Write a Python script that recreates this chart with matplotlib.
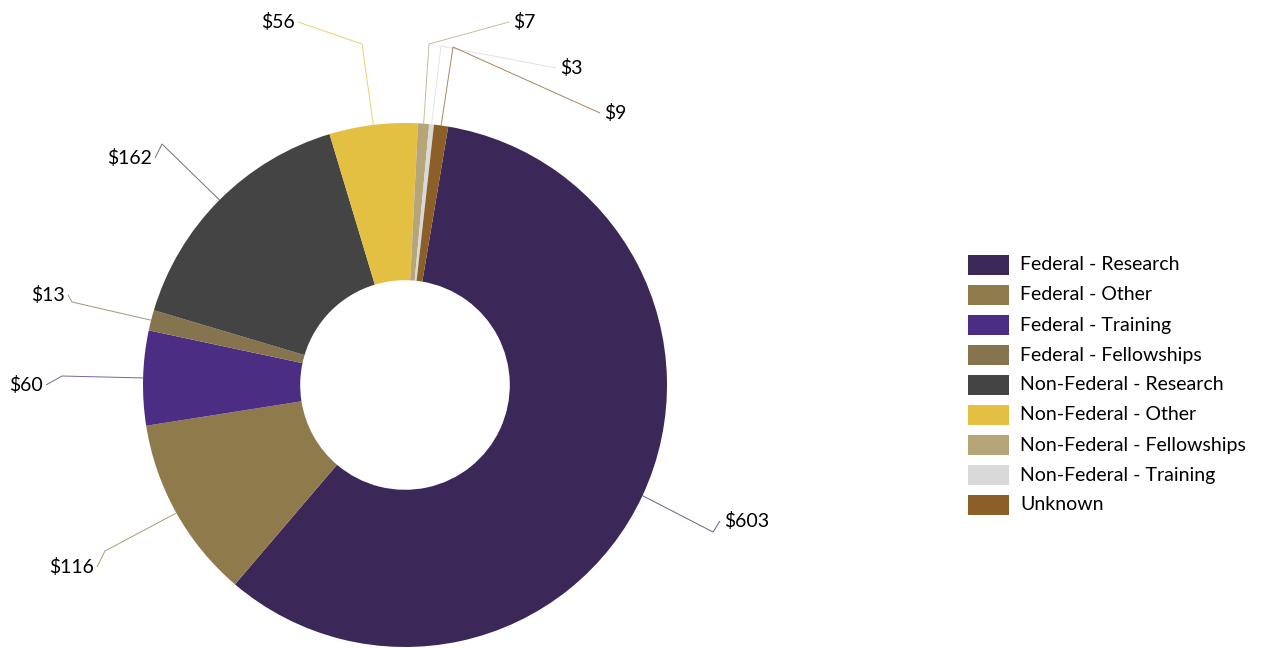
import matplotlib.pyplot as plt
import numpy as np
from matplotlib.patches import Rectangle

plt.rcParams["font.family"] = ["Lato", "DejaVu Sans"]

categories = [
    "Federal - Research",
    "Federal - Other",
    "Federal - Training",
    "Federal - Fellowships",
    "Non-Federal - Research",
    "Non-Federal - Other",
    "Non-Federal - Fellowships",
    "Non-Federal - Training",
    "Unknown",
]
values = [603, 116, 60, 13, 162, 56, 7, 3, 9]
colors = ["#3b2859", "#8f7a4c", "#4b2e83", "#85744d", "#444444",
          "#e4c042", "#b7a57a", "#d9d9d9", "#8c5e28"]
value_labels = [f"${v}" for v in values]

# label layout (image pixels): text anchor and elbow of the leader line
label_text_xy = [(724, 521), (94, 567), (43, 385), (65, 295), (152, 158),
                 (295, 22), (513, 22), (560, 68), (604, 113)]
label_elbow_xy = [(713, 532), (105, 551), (62, 376), (72, 302), (162, 144),
                  (362, 44), (429, 44), (441, 46), (453, 47)]

W, H = 1265, 648
CX, CY, R = 405, H - 385, 262


def main() -> None:
    fig = plt.figure(figsize=(W / 100, H / 100), dpi=100)
    ax = fig.add_axes([0, 0, 1, 1])

    wedges, _ = ax.pie(
        values,
        colors=colors,
        startangle=90 - 9.5,
        counterclock=False,
        radius=R,
        center=(CX, CY),
        wedgeprops=dict(width=R * 0.6, linewidth=0),
    )
    ax.set_xlim(0, W)
    ax.set_ylim(0, H)
    ax.set_aspect("equal")
    ax.axis("off")

    for i, w in enumerate(wedges):
        mid = np.deg2rad((w.theta1 + w.theta2) / 2)
        px, py = CX + R * np.cos(mid), CY + R * np.sin(mid)
        tx, ty = label_text_xy[i]
        ex, ey = label_elbow_xy[i]
        right = tx > CX
        edge_x = tx - 4 if right else tx + 3
        ax.plot([px, ex, edge_x], [py, H - ey, H - ty],
                color=colors[i], lw=0.7, alpha=0.75, solid_capstyle="butt")
        ax.text(tx, H - ty, value_labels[i], fontsize=14,
                ha="left" if right else "right", va="center", color="black")

    for row, label in enumerate(categories):
        y = 265 + row * 30
        ax.add_patch(Rectangle((968, H - y - 10), 41, 20, facecolor=colors[row],
                               edgecolor="none"))
        ax.text(1020, H - y, label, fontsize=14, va="center", color="black")

    fig.savefig("out.png", dpi=100)
    plt.close(fig)


if __name__ == "__main__":
    main()
